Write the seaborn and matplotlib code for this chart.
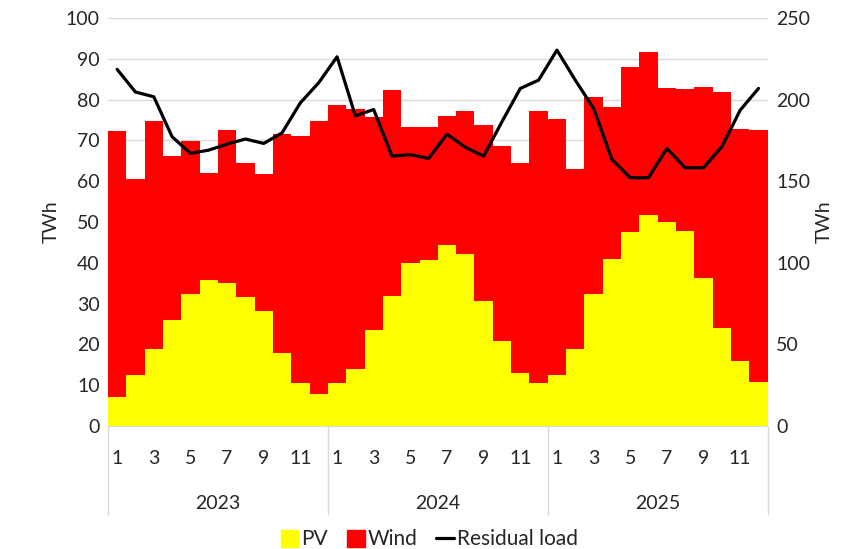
import matplotlib
matplotlib.use("Agg")
import matplotlib.pyplot as plt
import seaborn as sns
import pandas as pd
from matplotlib.lines import Line2D
from matplotlib.patches import Patch

# monthly values 2023-2025
years = [2023, 2024, 2025]
months = list(range(1, 13))
pv = [7.2, 12.5, 19.0, 26.0, 32.4, 35.8, 35.0, 31.6, 28.2, 17.9, 10.5, 7.8,
      10.6, 14.0, 23.5, 31.9, 40.0, 40.8, 44.3, 42.2, 30.7, 20.8, 13.1, 10.6,
      12.4, 18.8, 32.4, 40.9, 47.5, 51.7, 49.9, 47.9, 36.3, 24.0, 15.9, 10.9]
total = [72.4, 60.5, 74.7, 66.3, 69.9, 62.0, 72.6, 64.5, 61.8, 71.6, 71.0, 74.8,
         78.6, 77.6, 75.7, 82.3, 73.2, 73.4, 76.1, 77.2, 73.9, 68.7, 64.4, 77.2,
         75.2, 62.9, 80.6, 78.2, 88.1, 91.7, 82.8, 82.6, 83.0, 81.9, 72.9, 72.6]
wind = [round(t - p, 1) for t, p in zip(total, pv)]
residual = [218.6, 204.7, 201.8, 177.3, 167.1, 169.1, 172.8, 175.9, 173.2, 179.7, 198.1, 210.4,
            226.3, 190.1, 194.0, 165.4, 166.3, 164.0, 178.9, 170.8, 165.4, 186.5, 206.9, 212.0,
            230.4, 212.0, 194.7, 163.4, 152.2, 152.2, 170.1, 158.3, 158.3, 171.2, 193.6, 206.9]

df = pd.DataFrame({
    "period": [f"{y}-{m:02d}" for y in years for m in months],
    "month": [m for y in years for m in months],
    "PV": pv,
    "Wind": wind,
    "Residual load": residual,
})
df["total"] = df["PV"] + df["Wind"]
df["pos"] = range(len(df))

sns.set_style("white")
plt.rcParams["font.family"] = ["Lato", "DejaVu Sans"]

fig = plt.figure(figsize=(8.59, 5.49), dpi=100)
ax = fig.add_axes([0.1257, 0.224, 0.768, 0.743])

# stacked bars: total (red) behind, PV (yellow) in front
sns.barplot(data=df, x="period", y="total", color="#ff0000", width=1, saturation=1,
            edgecolor="none", ax=ax, zorder=2)
sns.barplot(data=df, x="period", y="PV", color="#ffff00", width=1, saturation=1,
            edgecolor="none", ax=ax, zorder=3)

ax.set_ylim(0, 100)
ax.set_xlim(-0.5, len(df) - 0.5)
ax.set_yticks(range(0, 101, 10))
ax.yaxis.grid(True, color="#d9d9d9", linewidth=1, zorder=0)
ax.set_axisbelow(True)
ax.set_ylabel("TWh", fontsize=14)
ax.set_xlabel("")
ax.tick_params(axis="y", length=0, labelsize=14, pad=6)

# month labels (odd months) + light separators between bars (lengths in points)
ax.set_xticks(df["pos"], [str(m) if m % 2 == 1 else "" for m in df["month"]])
ax.set_xticks([p - 0.5 for p in range(len(df) + 1)], minor=True)
ax.tick_params(axis="x", which="major", length=0, labelsize=14, pad=17)
ax.tick_params(axis="x", which="minor", length=32, color="#d9d9d9", width=1)

# year level
sec = ax.secondary_xaxis("bottom")
sec.set_xticks([-0.5, 11.5, 23.5, 35.5], labels=["", "", "", ""])
sec.set_xticks([5.5, 17.5, 29.5], labels=[str(y) for y in years], minor=True)
sec.tick_params(axis="x", which="major", length=64, color="#d9d9d9", width=1)
sec.tick_params(axis="x", which="minor", length=0, labelsize=14, pad=50)
sec.spines["bottom"].set_visible(False)

for s in ["top", "right", "left"]:
    ax.spines[s].set_visible(False)
ax.spines["bottom"].set_color("#d9d9d9")

# residual load on right axis
ax2 = ax.twinx()
sns.lineplot(data=df, x="pos", y="Residual load", color="black", linewidth=2.3, ax=ax2, zorder=4)
ax2.set_ylim(0, 250)
ax2.set_yticks(range(0, 251, 50))
ax2.set_ylabel("TWh", fontsize=14)
ax2.tick_params(axis="y", length=0, labelsize=14, pad=6)
for s in ["top", "right", "left", "bottom"]:
    ax2.spines[s].set_visible(False)
ax2.set_xlim(-0.5, len(df) - 0.5)

handles = [Patch(color="#ffff00"), Patch(color="#ff0000"), Line2D([], [], color="black", linewidth=2.3)]
fig.legend(handles, ["PV", "Wind", "Residual load"], loc="lower center", ncol=3,
           frameon=False, fontsize=15, bbox_to_anchor=(0.5, -0.035),
           handlelength=0.85, handleheight=0.85, handletextpad=0.15, columnspacing=0.9)

fig.savefig("out.png", dpi=100)
